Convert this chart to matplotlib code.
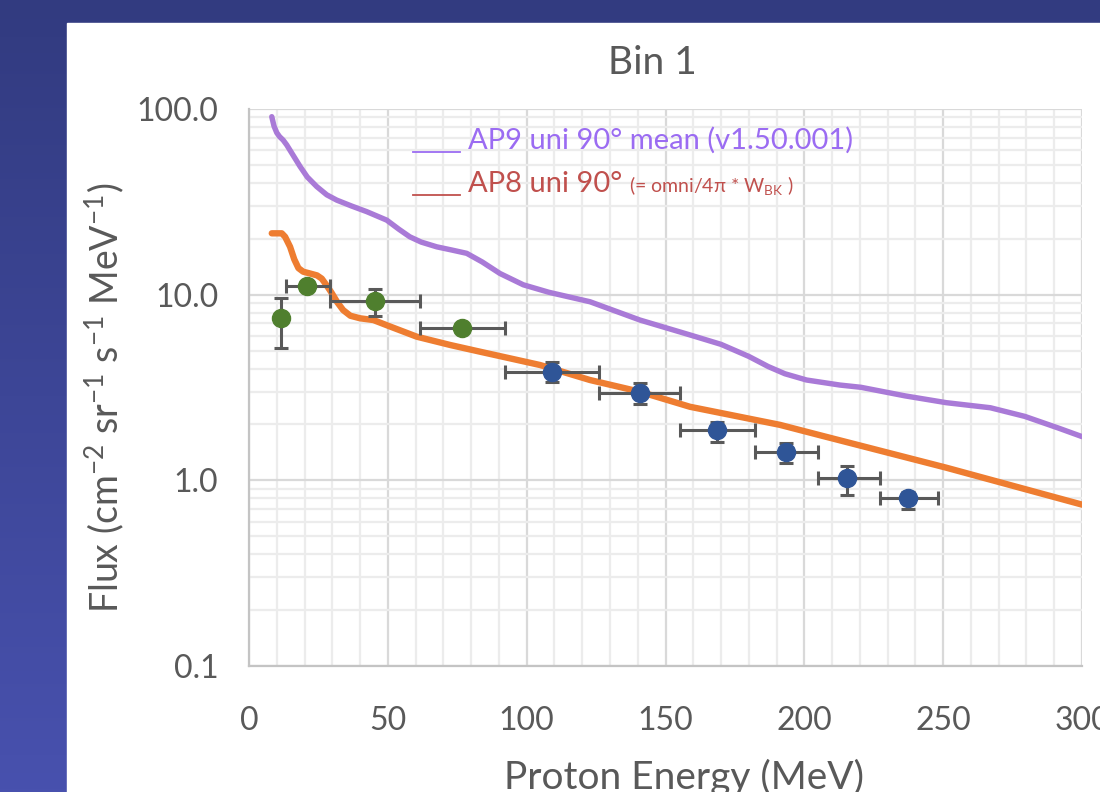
import numpy as np
import matplotlib.pyplot as plt
from matplotlib.patches import Rectangle
from matplotlib.lines import Line2D
from matplotlib.colors import LinearSegmentedColormap
from matplotlib.ticker import MultipleLocator, LogLocator, FixedLocator, FuncFormatter, NullFormatter

plt.rcParams["font.family"] = ["Lato", "DejaVu Sans"]
plt.rcParams["mathtext.fontset"] = "custom"
plt.rcParams["mathtext.rm"] = "Lato"
plt.rcParams["mathtext.it"] = "Lato:italic"
plt.rcParams["mathtext.bf"] = "Lato:bold"

# AP9 uni 90 mean model curve
ap9_energy = [8.2, 9.0, 10.0, 11.0, 12.3, 13.6, 16.0, 18.4, 21.0, 24.4, 28.0, 31.6, 37.0,
              42.4, 49.6, 54.0, 57.9, 62.0, 67.6, 73.0, 78.4, 84.0, 90.4, 98.8,
              108.0, 122.8, 140.8, 158.8, 170.0, 180.0, 187.0, 193.0, 200.8, 212.8,
              220.4, 236.3, 251.1, 267.0, 279.4, 291.6, 300.0]
ap9_flux = [90.9, 81.0, 74.5, 71.0, 68.0, 64.0, 56.0, 49.0, 43.0, 38.2, 34.5, 32.3, 30.0,
            28.0, 25.2, 22.5, 20.5, 19.2, 18.1, 17.4, 16.7, 15.0, 13.0, 11.3,
            10.3, 9.16, 7.3, 6.07, 5.4, 4.65, 4.1, 3.75, 3.47, 3.26,
            3.17, 2.85, 2.62, 2.46, 2.21, 1.91, 1.72]

# AP8 uni 90 model curve
ap8_energy = [8.2, 11.8, 13.0, 14.8, 16.3, 17.8, 19.5, 22.0, 24.5, 26.2, 28.0, 29.8,
              31.8, 33.9, 36.5, 40.0, 44.8, 50.9, 60.4, 72.4, 83.2, 104.8, 122.8,
              140.8, 158.8, 191.2, 205.6, 251.1, 300.0]
ap8_flux = [21.4, 21.4, 20.5, 18.1, 15.5, 13.9, 13.3, 13.0, 12.7, 12.2, 11.2, 10.2,
            9.1, 8.26, 7.7, 7.46, 7.3, 6.73, 5.94, 5.36, 4.93, 4.18, 3.47,
            3.0, 2.49, 1.99, 1.75, 1.17, 0.74]

# measured points, low energy channels (green)
low_energy = [11.4, 21.0, 45.4, 76.6]
low_e_min = [11.4, 13.2, 29.2, 61.6]
low_e_max = [11.4, 29.2, 61.6, 92.2]
low_flux = [7.47, 11.2, 9.27, 6.59]
low_flux_min = [5.17, 10.6, 7.7, 6.3]
low_flux_max = [9.64, 11.8, 10.7, 6.9]

# measured points, high energy channels (blue)
high_energy = [109.0, 140.8, 168.4, 193.4, 215.5, 237.2]
high_e_min = [92.2, 126.2, 155.2, 182.2, 205.0, 227.2]
high_e_max = [126.2, 155.2, 182.2, 205.0, 227.2, 248.2]
high_flux = [3.85, 2.97, 1.87, 1.42, 1.03, 0.80]
high_flux_min = [3.37, 2.58, 1.61, 1.24, 0.834, 0.70]
high_flux_max = [4.35, 3.33, 2.07, 1.58, 1.20, 0.87]

y_ticks = [0.1, 1.0, 10.0, 100.0]
x_ticks = [0, 50, 100, 150, 200, 250, 300]

W, H = 1100, 792
fig = plt.figure(figsize=(W / 100, H / 100), dpi=100)

# slide background: blue gradient with white panel
bg = fig.add_axes([0, 0, 1, 1], zorder=-10)
grad = np.linspace(0, 1, 256).reshape(-1, 1)
cmap = LinearSegmentedColormap.from_list("slide", ["#323b80", "#4851ae"])
bg.imshow(grad, aspect="auto", cmap=cmap, extent=[0, 1, 0, 1], origin="upper")
bg.add_patch(Rectangle((67 / W, 0), 1, 1 - 23 / H, color="white", zorder=2))
bg.set_xlim(0, 1)
bg.set_ylim(0, 1)
bg.axis("off")

ax = fig.add_axes([249 / W, 1 - 666 / H, (1082 - 249) / W, (666 - 109) / H])
ax.set_facecolor("white")
ax.set_yscale("log")
ax.set_xlim(0, 300)
ax.set_ylim(0.1, 100)

ax.xaxis.set_major_locator(FixedLocator(x_ticks))
ax.xaxis.set_minor_locator(MultipleLocator(10))
ax.yaxis.set_major_locator(FixedLocator(y_ticks))
ax.yaxis.set_minor_locator(LogLocator(base=10, subs=np.arange(2, 10)))
ax.yaxis.set_major_formatter(FuncFormatter(lambda v, p: f"{v:.1f}"))
ax.yaxis.set_minor_formatter(NullFormatter())

ax.set_axisbelow(True)
ax.grid(which="minor", color="#ececec", linewidth=1.6)
ax.grid(which="major", color="#d9d9d9", linewidth=1.6)
for s in ["top", "right"]:
    ax.spines[s].set_visible(False)
for s in ["left", "bottom"]:
    ax.spines[s].set_color("#c4c4c4")
    ax.spines[s].set_linewidth(1.6)

ax.tick_params(which="both", length=0)
ax.tick_params(axis="x", labelsize=23, labelcolor="#595959", pad=29)
ax.tick_params(axis="y", labelsize=23, labelcolor="#595959", pad=22)

ax.plot(ap9_energy, ap9_flux, color="#a97ad7", linewidth=3.9, solid_joinstyle="round",
        solid_capstyle="round", zorder=3)
ax.plot(ap8_energy, ap8_flux, color="#ee7d31", linewidth=4.6, solid_joinstyle="round",
        solid_capstyle="round", zorder=3)

for en, lo, hi, fl, fmin, fmax, col in [
    (low_energy, low_e_min, low_e_max, low_flux, low_flux_min, low_flux_max, "#4f7f2e"),
    (high_energy, high_e_min, high_e_max, high_flux, high_flux_min, high_flux_max, "#2f5597"),
]:
    en = np.array(en)
    fl = np.array(fl)
    xerr = [en - np.array(lo), np.array(hi) - en]
    yerr = [fl - np.array(fmin), np.array(fmax) - fl]
    ax.errorbar(en, fl, xerr=xerr, yerr=yerr, fmt="none", ecolor="#595959",
                elinewidth=2.2, capsize=5, capthick=2.2, zorder=4)
    ax.plot(en, fl, "o", color=col, markersize=13, zorder=5)

ax.set_xlabel("Proton Energy (MeV)", fontsize=28, color="#595959")
ax.xaxis.set_label_coords((684 - 249) / 833, (666 - 759) / 557)
ax.set_ylabel("Flux (cm$^{-2}$ sr$^{-1}$ s$^{-1}$ MeV$^{-1}$)", fontsize=27, color="#595959")
ax.yaxis.label.set(ha="center", va="center")
ax.yaxis.set_label_coords((104 - 249) / 833, (666 - 398) / 557)

fig.text(652 / W, 1 - 63 / H, "Bin 1", ha="center", va="center", fontsize=28, color="#595959")

# legend written as text with short coloured rules, as in the original
fig.add_artist(Line2D([413 / W, 460 / W], [1 - 152 / H, 1 - 152 / H], color="#9b6cf2", linewidth=1.3))
fig.add_artist(Line2D([413 / W, 460 / W], [1 - 195 / H, 1 - 195 / H], color="#c0504d", linewidth=1.3))
fig.text(468 / W, 1 - 149 / H, "AP9 uni 90° mean (v1.50.001)", fontsize=21,
         color="#9b6cf2", ha="left", va="baseline")
t2 = fig.text(468 / W, 1 - 192 / H, "AP8 uni 90°", fontsize=21,
              color="#c0504d", ha="left", va="baseline")
fig.canvas.draw()
bb = t2.get_window_extent()
fig.text((bb.x1 + 7) / W, 1 - 192 / H, "(= omni/4π * W$_{\\mathregular{BK}}$ )", fontsize=14,
         color="#c0504d", ha="left", va="baseline")

fig.savefig("out.png", dpi=100)
